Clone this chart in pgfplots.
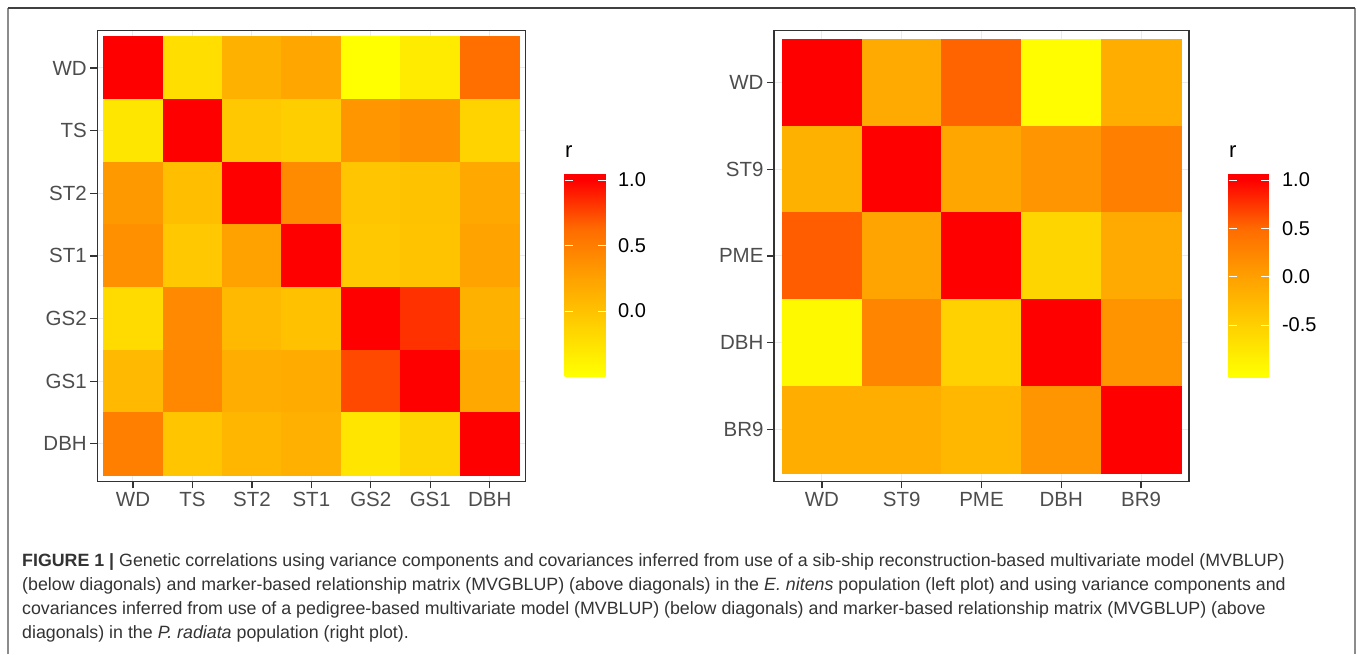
\documentclass[border=0pt]{standalone}
\usepackage{pgfplots}
\usepackage{pgfplotstable}
\pgfplotsset{compat=1.18}
\usepackage{fontspec}
\setmainfont{Liberation Sans}
\definecolor{ticktxt}{HTML}{4D4D4D}
\definecolor{framec}{HTML}{333333}
\definecolor{captxt}{HTML}{333333}
\definecolor{gridc}{HTML}{EBEBEB}

\pgfplotstableread{
x y v
0 0 1.00
1 0 -0.22
2 0 0.13
3 0 0.22
4 0 -0.50
5 0 -0.33
6 0 0.60
0 1 -0.29
1 1 1.00
2 1 -0.05
3 1 -0.09
4 1 0.33
5 1 0.37
6 1 -0.13
0 2 0.31
1 2 0.03
2 2 1.00
3 2 0.40
4 2 -0.02
5 2 0.00
6 2 0.20
0 3 0.37
1 3 -0.05
2 3 0.25
3 3 1.00
4 3 -0.05
5 3 -0.01
6 3 0.24
0 4 -0.20
1 4 0.42
2 4 0.07
3 4 0.01
4 4 1.00
5 4 0.83
6 4 0.13
0 5 0.07
1 5 0.43
2 5 0.16
3 5 0.18
4 5 0.75
5 5 1.00
6 5 0.20
0 6 0.48
1 6 -0.03
2 6 0.09
3 6 0.14
4 6 -0.28
5 6 -0.15
6 6 1.00
}\leftdata

\pgfplotstableread{
x y v
0 0 1.00
1 0 -0.10
2 0 0.53
3 0 -1.00
4 0 -0.14
0 1 -0.18
1 1 1.00
2 1 -0.07
3 1 0.10
4 1 0.30
0 2 0.56
1 2 -0.04
2 2 1.00
3 2 -0.56
4 2 -0.10
0 3 -0.95
1 3 0.25
2 3 -0.51
3 3 1.00
4 3 0.12
0 4 -0.14
1 4 -0.14
2 4 -0.24
3 4 0.10
4 4 1.00
}\rightdata

\pgfplotsset{
  colormap={yr}{rgb255(0pt)=(255,255,0); rgb255(1pt)=(255,255,0); rgb255(24.9pt)=(255,209,0); rgb255(48.8pt)=(255,161,0); rgb255(72.7pt)=(255,107,0); rgb255(96.6pt)=(255,0,0); rgb255(100pt)=(255,0,0)},
  heat/.style={
    scale only axis,
    colormap name=yr,
    axis line style={framec, line width=1.3pt},
    tick align=outside, tick pos=left,
    major tick length=7pt,
    tick style={framec, line width=1.3pt},
    grid=major, grid style={gridc, line width=1pt},
    y dir=reverse,
    tick label style={font=\fontsize{20.5}{24}\selectfont, text=ticktxt},
    clip=true,
  },
  cbar/.style={
    colorbar/width=#1,
    colorbar style={
      scale only axis,
      at={(parent axis.north east)}, anchor=north west,
      yshift=-142.6pt,
      width=#1, height=204pt,
      axis line style={draw=none},
      yticklabel pos=right, ytick pos=both,
      tick align=inside, major tick length=8pt,
      tick style={white, line width=0.8pt},
      yticklabel style={font=\fontsize{20}{24}\selectfont, text=black},
    },
  },
}

\begin{document}
\begin{tikzpicture}[x=1pt,y=1pt]
\useasboundingbox (0,0) rectangle (1357,654);
% outer frame
\draw[color=black!45, line width=1.3pt] (8,0) -- (8,646);
\draw[color=black!45, line width=1.3pt] (1355,0) -- (1355,646);
\draw[color=black!75, line width=1.5pt] (8,646) -- (1355,646);

% left heatmap
\begin{axis}[heat,
  at={(97.3pt,172.6pt)}, anchor=south west,
  width=428.1pt, height=451pt,
  xmin=-0.6, xmax=6.6, ymin=-0.6, ymax=6.6,
  xtick={0,...,6}, xticklabels={WD,TS,ST2,ST1,GS2,GS1,DBH},
  ytick={0,...,6}, yticklabels={WD,TS,ST2,ST1,GS2,GS1,DBH},
  point meta min=-0.504, point meta max=1.053,
  colorbar, cbar=41pt,
  colorbar style={xshift=30.6pt, ytick={0,0.5,1}, yticklabels={0.0,0.5,1.0},
    yticklabel style={xshift=9pt}},
]
\addplot[matrix plot*, mesh/cols=7, point meta=explicit] table[x=x, y=y, meta=v] {\leftdata};
\end{axis}

% right heatmap
\begin{axis}[heat,
  at={(774pt,172.6pt)}, anchor=south west,
  width=415pt, height=451pt,
  xmin=-0.6, xmax=4.6, ymin=-0.6, ymax=4.6,
  xtick={0,...,4}, xticklabels={WD,ST9,PME,DBH,BR9},
  ytick={0,...,4}, yticklabels={WD,ST9,PME,DBH,BR9},
  point meta min=-1.038, point meta max=1.072,
  colorbar, cbar=40pt,
  colorbar style={xshift=31pt, ytick={-0.5,0,0.5,1}, yticklabels={-0.5,0.0,0.5,1.0},
    yticklabel style={xshift=10pt}},
]
\addplot[matrix plot*, mesh/cols=5, point meta=explicit] table[x=x, y=y, meta=v] {\rightdata};
\end{axis}

% legend titles
\node[anchor=base west, inner sep=0pt, font=\fontsize{22}{26}\selectfont] at (565,496) {r};
\node[anchor=base west, inner sep=0pt, font=\fontsize{22}{26}\selectfont] at (1229,496) {r};

% caption
\begin{scope}[every node/.style={anchor=base west, inner sep=0pt, text=captxt, font=\fontsize{17.8}{24}\selectfont}]
\node at (22,88) {\textbf{FIGURE 1 |} Genetic correlations using variance components and covariances inferred from use of a sib-ship reconstruction-based multivariate model (MVBLUP)};
\node at (22,64) {(below diagonals) and marker-based relationship matrix (MVGBLUP) (above diagonals) in the \textit{E. nitens} population (left plot) and using variance components and};
\node at (22,40) {covariances inferred from use of a pedigree-based multivariate model (MVBLUP) (below diagonals) and marker-based relationship matrix (MVGBLUP) (above};
\node at (22,16) {diagonals) in the \textit{P. radiata} population (right plot).};
\end{scope}
\end{tikzpicture}
\end{document}
